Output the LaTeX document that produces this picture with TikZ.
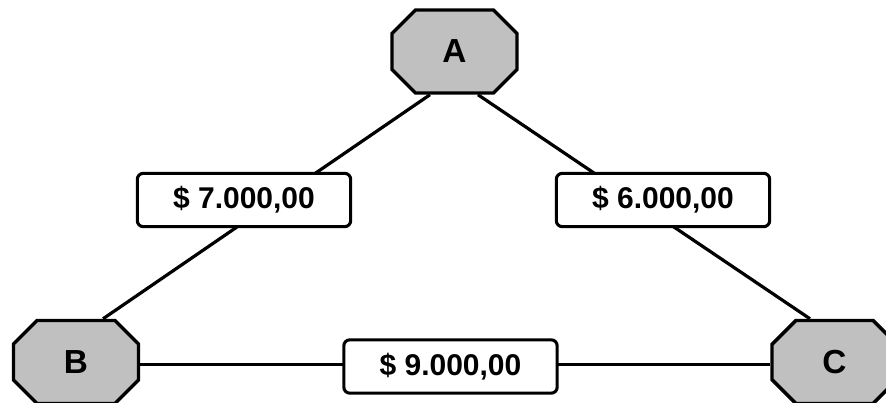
\documentclass[tikz,border=0pt]{standalone}
\usepackage{fontspec}
\setmainfont{Liberation Sans}
\usetikzlibrary{shapes.misc}
\definecolor{citygray}{RGB}{192,192,192}
\begin{document}
\begin{tikzpicture}[x=0.75pt,y=-0.75pt,
  city/.style={chamfered rectangle, chamfered rectangle xsep=17.25pt,
    chamfered rectangle ysep=17.25pt, minimum width=93.75pt, minimum height=62.25pt,
    inner sep=0pt, draw=black, line width=2.6pt, fill=citygray,
    font=\bfseries\fontsize{25}{29}\selectfont},
  cost/.style={rectangle, rounded corners=4.5pt, draw=black, fill=white,
    line width=2.3pt, minimum width=160pt, minimum height=40pt, inner sep=0pt,
    font=\bfseries\fontsize{22.5}{26}\selectfont},
  road/.style={line width=2.4pt, black}]
\useasboundingbox (0,0) rectangle (886,403);
\clip (0,0) rectangle (886,403);
\fill[white] (0,0) rectangle (886,403);
% cities
\node[city] (A) at (454.5,51.5) {A};
\node[city] (B) at (76,362) {B};
\node[city] (C) at (834.5,362) {C};
% roads
\draw[road] ([xshift=-18.4pt]A.south) -- ([xshift=20.3pt]B.north);
\draw[road] ([xshift=17.6pt]A.south) -- ([xshift=-18.4pt]C.north);
\draw[road] ([yshift=-1.8pt]B.east) -- ([yshift=-1.8pt]C.west);
% costs
\node[cost] (ab) at (244,200) {\$ 7.000,00};
\node[cost] (ac) at (663,200) {\$ 6.000,00};
\node[cost] (bc) at (450.5,366.5) {\$ 9.000,00};
\end{tikzpicture}
\end{document}
